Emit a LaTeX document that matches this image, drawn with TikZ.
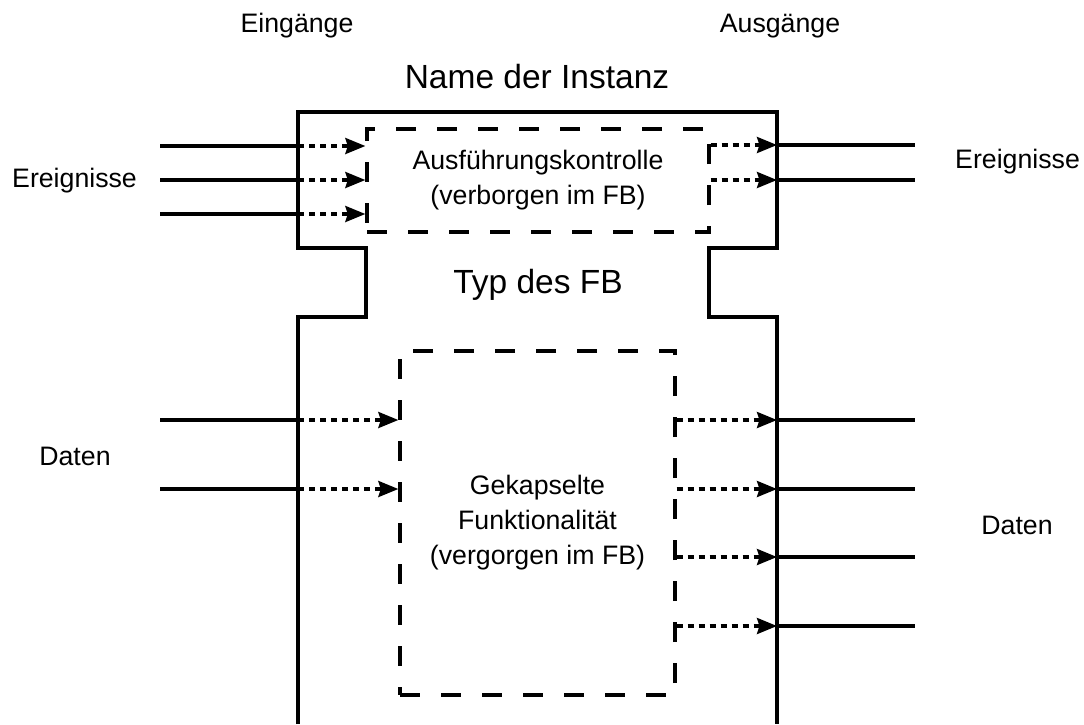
\documentclass[tikz,border=0pt]{standalone}
\usepackage{fontspec}
\setmainfont{Liberation Sans}
\usetikzlibrary{arrows.meta,calc}
\tikzset{
  frame/.style={line width=3.3pt, line join=miter},
  hidbox/.style={draw, line width=3.3pt, dash pattern=on 20pt off 21pt, rectangle, inner sep=0pt, align=center, font=\fontsize{26.7}{35}\selectfont},
  wire/.style={line width=3.3pt},
  inner/.style={line width=3.3pt, dash pattern=on 6pt off 5pt, -{Stealth[length=20pt,width=16pt,inset=2.5pt]}},
  lbl/.style={font=\fontsize{26.7}{32}\selectfont, inner sep=0pt},
  title/.style={font=\fontsize{33.5}{40}\selectfont, inner sep=0pt}
}
\begin{document}
\begin{tikzpicture}[x=1pt,y=-1pt]
\useasboundingbox (0,0) rectangle (1084,724);
% outer block
\draw[frame] (298,724) -- (298,317) -- (366,317) -- (366,248) -- (298,248) -- (298,112)
  -- (777,112) -- (777,248) -- (709,248) -- (709,317) -- (777,317) -- (777,724);
% hidden boxes
\node[hidbox, minimum width=342pt, minimum height=103pt] (ub) at (538,180.5)
  {Ausführungskontrolle\\(verborgen im FB)};
\node[hidbox, minimum width=275pt, minimum height=344pt] (lb) at (537.5,523)
  {Gekapselte\\Funktionalität\\(vergorgen im FB)};
% labels
\node[lbl, anchor=base] (ein) at (297,32) {Eingänge};
\node[lbl, anchor=base] (aus) at (780,32) {Ausgänge};
\node[title, anchor=base] (name) at (537,88) {Name der Instanz};
\node[title, anchor=base] (typ) at (538,293) {Typ des FB};
\node[lbl, anchor=base west] (evl) at (12,187) {Ereignisse};
\node[lbl, anchor=base west] (evr) at (955,168) {Ereignisse};
\node[lbl, anchor=base] (dal) at (75,465) {Daten};
\node[lbl, anchor=base] (dar) at (1017,534) {Daten};
% connectors
\foreach \i/\y in {1/146,2/180,3/214}{
  \coordinate (ei\i s) at (160,\y);
  \coordinate (ei\i f) at (298,\y);
  \draw[wire] (ei\i s) -- (ei\i f);
  \draw[inner] (ei\i f) -- (ei\i f -| ub.west);
}
\foreach \i/\y in {1/145,2/180}{
  \coordinate (eo\i f) at (777,\y);
  \coordinate (eo\i e) at (915,\y);
  \draw[inner] (eo\i f -| ub.east) -- (eo\i f);
  \draw[wire] (eo\i f) -- (eo\i e);
}
\foreach \i/\y in {1/420,2/489}{
  \coordinate (di\i s) at (160,\y);
  \coordinate (di\i f) at (298,\y);
  \draw[wire] (di\i s) -- (di\i f);
  \draw[inner] (di\i f) -- (di\i f -| lb.west);
}
\foreach \i/\y in {1/420,2/489,3/557,4/626}{
  \coordinate (do\i f) at (777,\y);
  \coordinate (do\i e) at (915,\y);
  \draw[inner] (do\i f -| lb.east) -- (do\i f);
  \draw[wire] (do\i f) -- (do\i e);
}
\end{tikzpicture}
\end{document}
